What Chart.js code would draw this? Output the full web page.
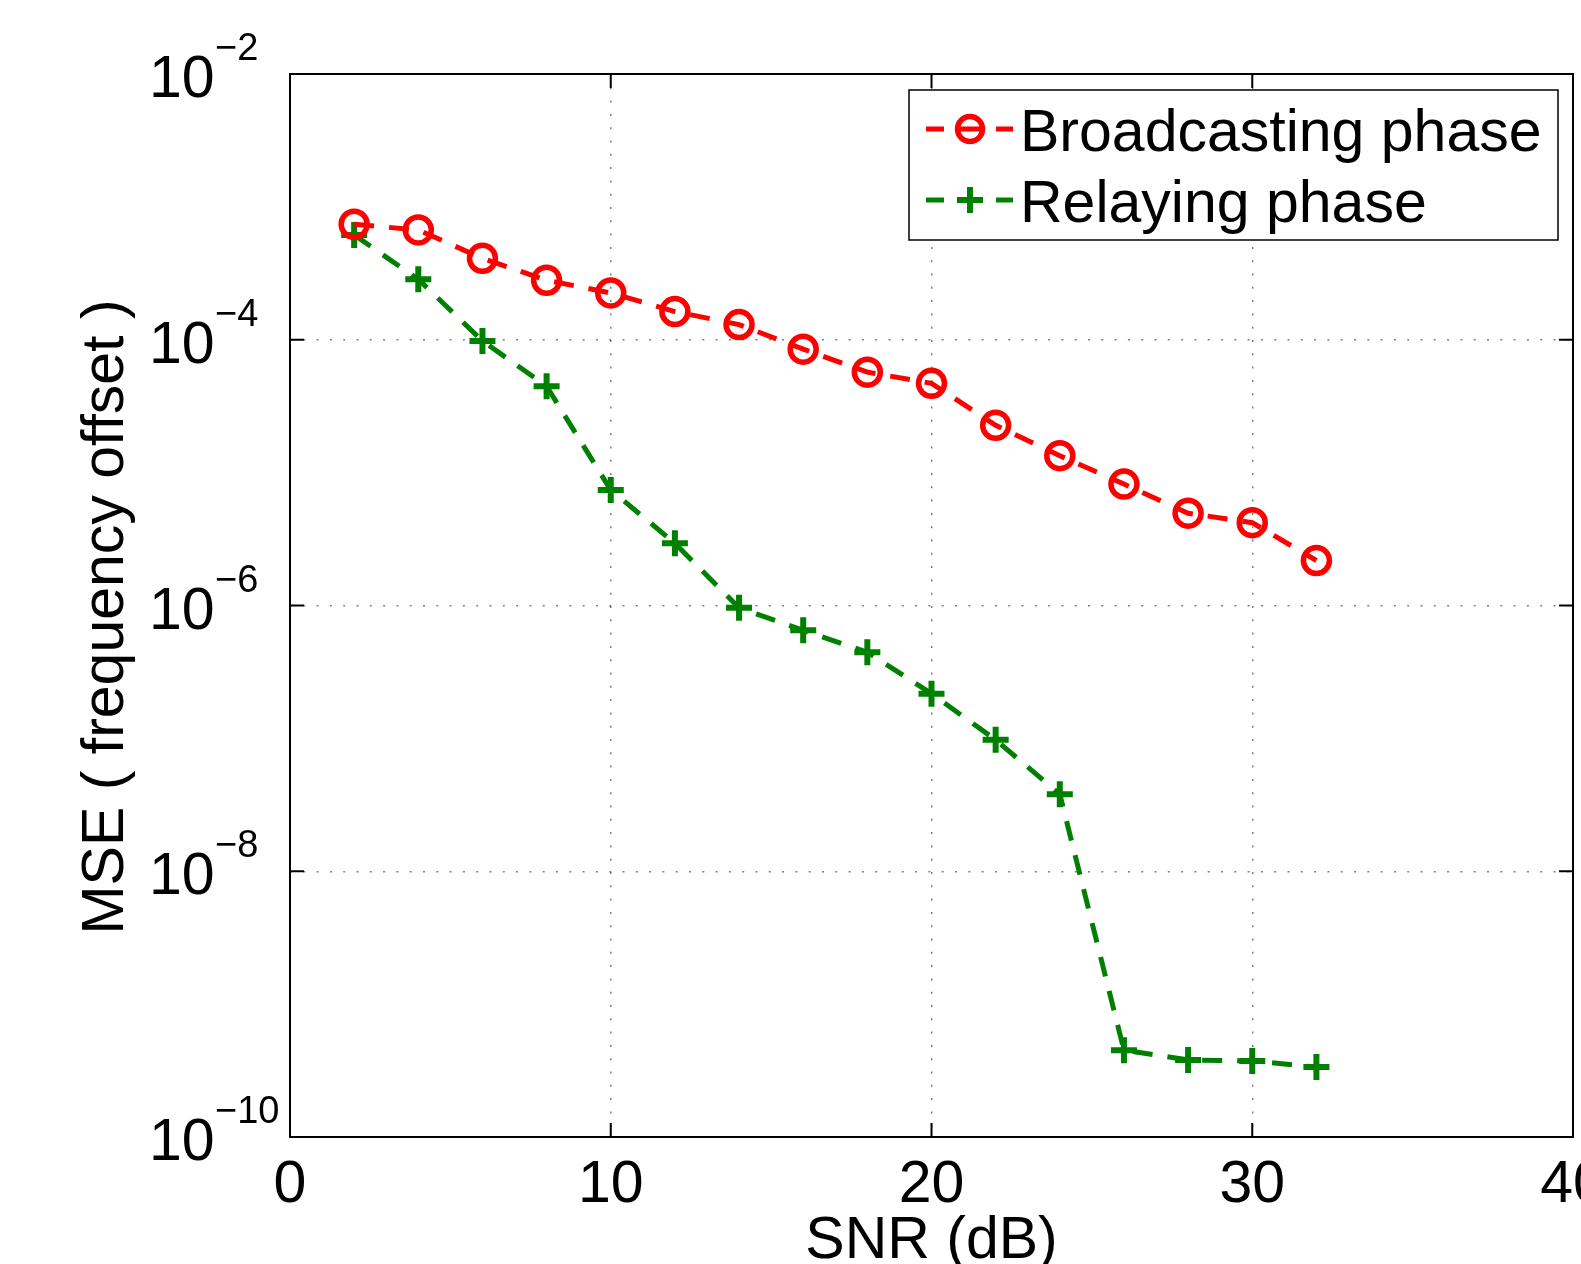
<!DOCTYPE html>
<html>
<head>
<meta charset="utf-8">
<script src="https://cdn.jsdelivr.net/npm/chart.js@4.4.1/dist/chart.umd.min.js"></script>
<style>
  html, body { margin: 0; padding: 0; background: #fff; }
  #wrap { width: 1581px; height: 1264px; position: relative; }
</style>
</head>
<body>
<div id="wrap"><canvas id="c" width="1581" height="1264"></canvas></div>
<script>
// ---- Data ----
const snr = [2, 4, 6, 8, 10, 12, 14, 16, 18, 20, 22, 24, 26, 28, 30, 32];
const broadcasting = [7.4e-4, 6.7e-4, 4.1e-4, 2.8e-4, 2.25e-4, 1.63e-4, 1.3e-4, 8.5e-5, 5.7e-5, 4.7e-5, 2.27e-5, 1.34e-5, 8.2e-6, 4.95e-6, 4.2e-6, 2.18e-6];
const relaying = [6.15e-4, 2.85e-4, 9.8e-5, 4.47e-5, 7.4e-6, 2.94e-6, 9.6e-7, 6.5e-7, 4.45e-7, 2.17e-7, 9.75e-8, 3.8e-8, 4.5e-10, 3.8e-10, 3.74e-10, 3.36e-10];
const xTicks = [0, 10, 20, 30, 40];
const yTicks = [1e-10, 1e-8, 1e-6, 1e-4, 1e-2];
const yTickExp = ['\u221210', '\u22128', '\u22126', '\u22124', '\u22122'];
const seriesNames = ['Broadcasting phase', 'Relaying phase'];
const xTitle = 'SNR (dB)';
const yTitle = 'MSE ( frequency offset )';

const FONT = '"Liberation Sans", Arial, sans-serif';
const RED = '#ff0000';
const GREEN = '#008000';

const toXY = (xs, ys) => xs.map((x, i) => ({ x: x, y: ys[i] }));

const decor = {
  id: 'decor',
  afterDatasetsDraw(chart) {
    const ctx = chart.ctx;
    const a = chart.chartArea;
    const xs = chart.scales.x, ys = chart.scales.y;
    ctx.save();
    ctx.strokeStyle = '#000';
    ctx.lineWidth = 2;
    ctx.setLineDash([]);
    ctx.strokeRect(a.left, a.top, a.right - a.left, a.bottom - a.top);
    const tl = 14;
    ctx.beginPath();
    xTicks.forEach(v => {
      const px = xs.getPixelForValue(v);
      ctx.moveTo(px, a.bottom); ctx.lineTo(px, a.bottom - tl);
      ctx.moveTo(px, a.top); ctx.lineTo(px, a.top + tl);
    });
    yTicks.forEach(v => {
      const py = ys.getPixelForValue(v);
      ctx.moveTo(a.left, py); ctx.lineTo(a.left + tl, py);
      ctx.moveTo(a.right, py); ctx.lineTo(a.right - tl, py);
    });
    ctx.stroke();
    ctx.restore();
  },
  afterDraw(chart) {
    const ctx = chart.ctx;
    const a = chart.chartArea;
    const xs = chart.scales.x, ys = chart.scales.y;
    ctx.save();
    ctx.fillStyle = '#000';
    ctx.font = '59px ' + FONT;
    ctx.textAlign = 'center';
    ctx.textBaseline = 'alphabetic';
    xTicks.forEach(v => {
      ctx.fillText(String(v), xs.getPixelForValue(v), a.bottom + 65);
    });
    yTicks.forEach((v, i) => {
      const py = ys.getPixelForValue(v);
      ctx.textAlign = 'left';
      ctx.font = '59px ' + FONT;
      ctx.fillText('10', 149, py + 23);
      ctx.font = '38px ' + FONT;
      ctx.fillText(yTickExp[i], 215, py - 14);
    });
    ctx.font = '59px ' + FONT;
    ctx.textAlign = 'center';
    ctx.fillText(xTitle, (a.left + a.right) / 2, 1258);
    ctx.save();
    ctx.translate(123, 617);
    ctx.rotate(-Math.PI / 2);
    ctx.fillText(yTitle, 0, 0);
    ctx.restore();

    // legend
    const L = 909, T = 90, R = 1558, B = 240;
    ctx.fillStyle = '#fff';
    ctx.fillRect(L, T, R - L, B - T);
    ctx.strokeStyle = '#000';
    ctx.lineWidth = 1.5;
    ctx.strokeRect(L, T, R - L, B - T);
    const rows = [
      { y: 129, color: RED, marker: 'circle', name: seriesNames[0], base: 151 },
      { y: 200, color: GREEN, marker: 'cross', name: seriesNames[1], base: 222 }
    ];
    rows.forEach(r => {
      ctx.strokeStyle = r.color;
      ctx.lineWidth = 5;
      ctx.lineCap = 'butt';
      ctx.beginPath();
      ctx.moveTo(926, r.y); ctx.lineTo(944, r.y);
      ctx.moveTo(996, r.y); ctx.lineTo(1013, r.y);
      if (r.marker === 'circle') { ctx.moveTo(958, r.y); ctx.lineTo(982, r.y); }
      ctx.stroke();
      ctx.beginPath();
      if (r.marker === 'circle') {
        ctx.lineWidth = 5.5;
        ctx.arc(970, r.y, 12.5, 0, Math.PI * 2);
      } else {
        ctx.lineWidth = 6;
        ctx.moveTo(957, r.y); ctx.lineTo(983, r.y);
        ctx.moveTo(970, r.y - 13); ctx.lineTo(970, r.y + 13);
      }
      ctx.stroke();
      ctx.fillStyle = '#000';
      ctx.font = '59px ' + FONT;
      ctx.textAlign = 'left';
      ctx.fillText(r.name, 1020, r.base);
    });
    ctx.restore();
  }
};

new Chart(document.getElementById('c'), {
  type: 'line',
  data: {
    datasets: [
      {
        label: seriesNames[0],
        data: toXY(snr, broadcasting),
        borderColor: RED,
        borderWidth: 5,
        borderDash: [20, 15],
        pointStyle: 'circle',
        pointRadius: 13,
        pointBorderWidth: 5.5,
        pointBorderColor: RED,
        pointBackgroundColor: 'rgba(0,0,0,0)',
        fill: false,
        tension: 0
      },
      {
        label: seriesNames[1],
        data: toXY(snr, relaying),
        borderColor: GREEN,
        borderWidth: 5,
        borderDash: [20, 15],
        pointStyle: 'cross',
        pointRadius: 13,
        pointBorderWidth: 6,
        pointBorderColor: GREEN,
        pointBackgroundColor: GREEN,
        fill: false,
        tension: 0
      }
    ]
  },
  options: {
    responsive: false,
    animation: false,
    devicePixelRatio: 1,
    layout: { autoPadding: false, padding: { left: 290, right: 8, top: 74, bottom: 127 } },
    plugins: { legend: { display: false }, tooltip: { enabled: false } },
    scales: {
      x: {
        type: 'linear',
        min: 0, max: 40,
        afterBuildTicks: s => { s.ticks = xTicks.map(v => ({ value: v })); },
        ticks: { display: false },
        grid: { color: 'rgba(0,0,0,0.5)', lineWidth: 1.5, drawTicks: false },
        border: { display: false, dash: [2, 11.3] },
        title: { display: false }
      },
      y: {
        type: 'logarithmic',
        min: 1e-10, max: 1e-2,
        afterBuildTicks: s => { s.ticks = yTicks.map(v => ({ value: v })); },
        ticks: { display: false },
        grid: { color: 'rgba(0,0,0,0.5)', lineWidth: 1.5, drawTicks: false },
        border: { display: false, dash: [2, 11.3] },
        title: { display: false }
      }
    }
  },
  plugins: [decor]
});
</script>
</body>
</html>
